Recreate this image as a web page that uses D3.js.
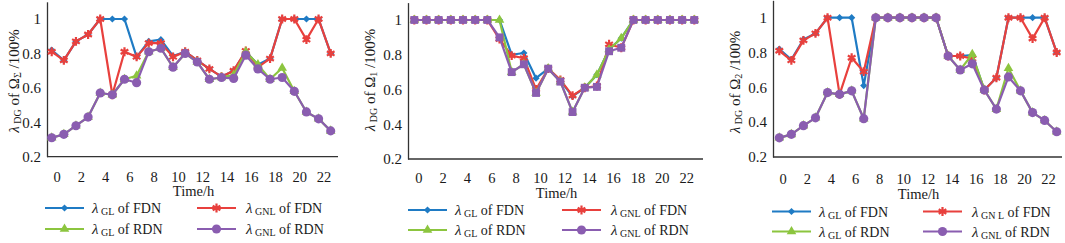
<!DOCTYPE html>
<html><head><meta charset="utf-8">
<script src="https://cdn.jsdelivr.net/npm/d3@7"></script>
<style>
body{margin:0;background:#fff}
svg{display:block}
text{font-family:"Liberation Serif","Times New Roman",serif;fill:#1a1a1a}
</style>
</head><body>
<svg id="c" width="1065" height="243"></svg>
<script>
// ---------- DATA ----------
const hours = [0,1,2,3,4,5,6,7,8,9,10,11,12,13,14,15,16,17,18,19,20,21,22,23];
const xTickLabels = ["0","2","4","6","8","10","12","14","16","18","20","22"];
const yTickValues = [0.2,0.4,0.6,0.8,1];
const yTickLabels = ["0.2","0.4","0.6","0.8","1"];
const seriesNames = ["GL of FDN","GNL of FDN","GL of RDN","GNL of RDN"];

// Omega_Sigma
const sumGL_FDN  = [0.82,0.76,0.87,0.91,1,1,1,0.78,0.87,0.88,0.785,0.81,0.76,0.71,0.665,0.70,0.81,0.735,0.77,1,1,1,1,0.80];
const sumGNL_FDN = [0.81,0.76,0.87,0.91,1,0.56,0.81,0.78,0.86,0.86,0.78,0.81,0.76,0.71,0.665,0.70,0.815,0.72,0.77,1,1,0.88,1,0.80];
const sumGL_RDN  = [0.31,0.33,0.38,0.43,0.57,0.56,0.65,0.67,0.81,0.83,0.72,0.80,0.75,0.65,0.66,0.675,0.81,0.735,0.65,0.715,0.58,0.46,0.42,0.35];
const sumGNL_RDN = [0.31,0.33,0.38,0.43,0.57,0.56,0.65,0.63,0.81,0.83,0.72,0.80,0.75,0.65,0.66,0.655,0.79,0.71,0.65,0.66,0.58,0.46,0.42,0.35];

// Omega_1
const o1GL_FDN  = [1,1,1,1,1,1,1,1,0.80,0.81,0.665,0.72,0.65,0.56,0.61,0.685,0.83,0.895,1,1,1,1,1,1];
const o1GNL_FDN = [1,1,1,1,1,1,1,0.89,0.795,0.78,0.60,0.72,0.655,0.565,0.61,0.62,0.86,0.84,1,1,1,1,1,1];
const o1GL_RDN  = [1,1,1,1,1,1,1,1,0.70,0.745,0.58,0.72,0.645,0.47,0.61,0.685,0.83,0.895,1,1,1,1,1,1];
const o1GNL_RDN = [1,1,1,1,1,1,1,0.90,0.70,0.745,0.58,0.72,0.645,0.47,0.61,0.615,0.82,0.84,1,1,1,1,1,1];

// Omega_2
const o2GL_FDN  = [0.82,0.76,0.875,0.91,1,1,1,0.61,1,1,1,1,1,1,0.78,0.78,0.785,0.585,0.655,1,1,1,1,0.80];
const o2GNL_FDN = [0.81,0.755,0.87,0.91,1,0.56,0.77,0.69,1,1,1,1,1,1,0.78,0.78,0.765,0.585,0.655,1,1,0.88,1,0.80];
const o2GL_RDN  = [0.31,0.33,0.38,0.425,0.57,0.56,0.58,0.42,1,1,1,1,1,1,0.78,0.70,0.79,0.585,0.475,0.71,0.58,0.455,0.41,0.345];
const o2GNL_RDN = [0.31,0.33,0.38,0.425,0.57,0.56,0.58,0.42,1,1,1,1,1,1,0.78,0.70,0.735,0.585,0.475,0.66,0.58,0.455,0.41,0.345];

// ---------- STYLE / LAYOUT ----------
const colors = ["#1f7bc4","#e8403d","#8cc53f","#8a5db0"];
const charts = [
  {series:[sumGL_FDN,sumGNL_FDN,sumGL_RDN,sumGNL_RDN], sub:"Σ", x0:47, x1:338, p0:51.7, p1:330.7, yTop:1.8, yBot:156.7,
   lblOff:5, xLblY:182, timeY:196, yLabX:14, yLabY:81, legX:[45,197], legY:[208,229], gnl:["GNL","GNL"], purple:"circle"},
  {series:[o1GL_FDN,o1GNL_FDN,o1GL_RDN,o1GNL_RDN], sub:"1", x0:408, x1:703, p0:414.3, p1:694.3, yTop:2.6, yBot:159,
   lblOff:4, xLblY:183, timeY:197.5, yLabX:370, yLabY:80, legX:[408,562], legY:[210,230], gnl:["GNL","GNL"], purple:"square"},
  {series:[o2GL_FDN,o2GNL_FDN,o2GL_RDN,o2GNL_RDN], sub:"2", x0:773, x1:1062, p0:779.3, p1:1056.7, yTop:0.3, yBot:157,
   lblOff:3.4, xLblY:183.5, timeY:198.5, yLabX:735, yLabY:82, legX:[772,923], legY:[211.5,231.5], gnl:["GN L","GNL"], purple:"circle"}
];

const SERIF = '"Liberation Serif","Times New Roman",serif';
const svg = d3.select("#c");

function marker(g, type, color, x, y) {
  if (type === "diamond") {
    g.append("path").attr("d", d3.symbol(d3.symbolSquare, 26)())
      .attr("transform", `translate(${x},${y}) rotate(45)`).attr("fill", color);
  } else if (type === "asterisk") {
    g.append("path").attr("d", d3.symbol(d3.symbolAsterisk, 55)())
      .attr("transform", `translate(${x},${y})`).attr("fill","none").attr("stroke", color).attr("stroke-width", 2.2);
  } else if (type === "triangle") {
    g.append("path").attr("d", d3.symbol(d3.symbolTriangle, 40)())
      .attr("transform", `translate(${x},${y})`).attr("fill", color);
  } else if (type === "square") {
    g.append("path").attr("d", d3.symbol(d3.symbolSquare, 62)())
      .attr("transform", `translate(${x},${y})`).attr("fill", color);
  } else {
    g.append("path").attr("d", d3.symbol(d3.symbolCircle, 66)())
      .attr("transform", `translate(${x},${y})`).attr("fill", color);
  }
}

charts.forEach(cfg => {
  const g = svg.append("g");
  const x = d3.scalePoint().domain(hours).range([cfg.p0, cfg.p1]);
  const y = d3.scaleLinear().domain([0.2, 1.1]).range([cfg.yBot, cfg.yTop]);
  const markerTypes = ["diamond","asterisk","triangle",cfg.purple];

  // axes
  const ya = g.append("g").attr("transform", `translate(${cfg.x0},0)`)
    .call(d3.axisLeft(y).tickValues(yTickValues).tickFormat((d,i)=>yTickLabels[i]).tickSize(0).tickPadding(6));
  ya.attr("font-family", null).attr("font-size", null);
  ya.select(".domain").attr("stroke","#333").attr("stroke-width",1.3);
  ya.selectAll("text").style("font-size","15px").style("font-family",SERIF).attr("fill","#1a1a1a");

  g.append("line").attr("x1",cfg.x0).attr("x2",cfg.x1).attr("y1",y(0.2)).attr("y2",y(0.2))
    .attr("stroke","#333").attr("stroke-width",1.3);

  const xa = g.append("g").attr("transform", `translate(${cfg.lblOff},${cfg.xLblY})`)
    .call(d3.axisBottom(x).tickValues(hours.filter(h => h % 2 === 0))
      .tickFormat(h => xTickLabels[h/2]).tickSize(0).tickPadding(0));
  xa.attr("font-family", null).attr("font-size", null);
  xa.select(".domain").remove();
  xa.selectAll("text").attr("dy", 0).style("font-size","14.5px").style("font-family",SERIF).attr("fill","#1a1a1a");

  g.append("text").attr("x", (cfg.x0 + cfg.x1)/2 + 1).attr("y", cfg.timeY)
    .attr("text-anchor","middle").style("font-size","14.5px").text("Time/h");

  // y label
  const yl = g.append("text").attr("transform", `translate(${cfg.yLabX},${cfg.yLabY}) rotate(-90)`)
    .attr("text-anchor","middle").attr("dominant-baseline","central").style("font-size","15px");
  yl.append("tspan").attr("font-style","italic").text("λ");
  yl.append("tspan").style("font-size","10px").attr("dy",3).text(" DG");
  yl.append("tspan").attr("dy",-3).text(" of Ω");
  yl.append("tspan").style("font-size","10px").attr("dy",3).text(cfg.sub);
  yl.append("tspan").attr("dy",-3).text(" /100%");

  // lines + markers
  const line = d3.line().x((d,i) => x(hours[i])).y(d => y(d));
  cfg.series.forEach((vals, si) => {
    g.append("path").datum(vals).attr("d", line).attr("fill","none")
      .attr("stroke", colors[si]).attr("stroke-width", 2.2).attr("stroke-linejoin","round");
    const mg = g.append("g");
    vals.forEach((v,i) => marker(mg, markerTypes[si], colors[si], x(hours[i]), y(v)));
  });

  // legend
  const subs = ["GL", cfg.gnl[0], "GL", cfg.gnl[1]];
  const tails = [" of FDN"," of FDN"," of RDN"," of RDN"];
  seriesNames.forEach((nm, si) => {
    const col = si % 2, row = Math.floor(si / 2);
    const lx = cfg.legX[col], ly = cfg.legY[row];
    const lg = g.append("g");
    lg.append("line").attr("x1", lx).attr("x2", lx + 39).attr("y1", ly).attr("y2", ly)
      .attr("stroke", colors[si]).attr("stroke-width", 2.2);
    marker(lg, markerTypes[si] === "square" ? "circle" : markerTypes[si], colors[si], lx + 19.5, ly);
    const t = lg.append("text").attr("x", lx + (col === 0 ? 47 : 49)).attr("y", ly + 5).style("font-size","14px");
    t.append("tspan").attr("font-style","italic").style("font-size","15px").text("λ");
    t.append("tspan").style("font-size","10px").attr("dy",2).text(" " + subs[si]);
    t.append("tspan").attr("dy",-2).text(tails[si]);
  });
});
</script>
</body></html>
